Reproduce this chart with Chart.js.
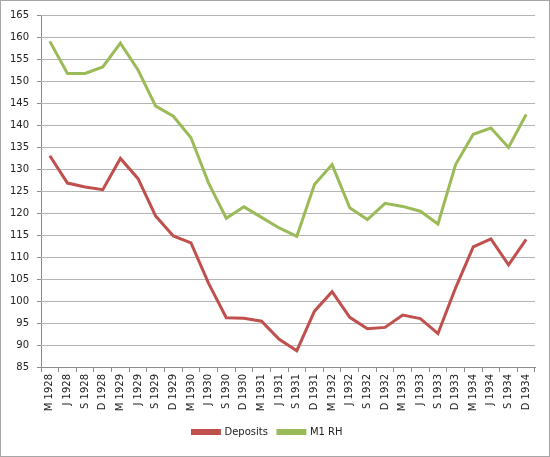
<!DOCTYPE html>
<html>
<head>
<meta charset="utf-8">
<script src="https://cdn.jsdelivr.net/npm/chart.js@4"></script>
<style>
  body { margin: 0; background: #fff; }
  #box { width: 550px; height: 457px; }
</style>
</head>
<body>
<div id="box"><canvas id="myChart" width="550" height="457"></canvas></div>
<script>
// quarter labels
const quarters = [
  "M 1928", "J 1928", "S 1928", "D 1928",
  "M 1929", "J 1929", "S 1929", "D 1929",
  "M 1930", "J 1930", "S 1930", "D 1930",
  "M 1931", "J 1931", "S 1931", "D 1931",
  "M 1932", "J 1932", "S 1932", "D 1932",
  "M 1933", "J 1933", "S 1933", "D 1933",
  "M 1934", "J 1934", "S 1934", "D 1934",
];

const deposits = [
  133, 126.8, 125.9, 125.3, 132.4, 127.8, 119.3, 114.8,
  113.2, 104, 96.2, 96.1, 95.4, 91.3, 88.7, 97.7,
  102.1, 96.3, 93.7, 94, 96.8, 96, 92.6, 103,
  112.3, 114.1, 108.2, 114,
];

const m1rh = [
  159, 151.7, 151.7, 153.2, 158.6, 152.5, 144.3, 142,
  137.1, 126.8, 118.8, 121.4, 119, 116.6, 114.7, 126.5,
  131, 121.2, 118.5, 122.2, 121.5, 120.4, 117.5, 131,
  137.9, 139.3, 134.9, 142.4,
];

const yMin = 85;
const yMax = 165;
const yStep = 5;

Chart.defaults.font.family = "'DejaVu Sans', Verdana, sans-serif";
Chart.defaults.font.size = 10;
Chart.defaults.color = "#333";

// white background + thin frame like the excel export
const frame = {
  id: "frame",
  beforeDraw(chart) {
    const c = chart.ctx;
    c.save();
    c.fillStyle = "#fff";
    c.fillRect(0, 0, chart.width, chart.height);
    c.strokeStyle = "#a6a6a6";
    c.lineWidth = 1;
    c.strokeRect(0.5, 0.5, chart.width - 1, chart.height - 1);
    c.restore();
  },
  // horizontal gridlines, kept inside the plot area
  beforeDatasetsDraw(chart) {
    const a = chart.chartArea;
    const y = chart.scales.y;
    const c = chart.ctx;
    c.save();
    c.strokeStyle = "#b4b4b4";
    c.lineWidth = 1;
    y.ticks.forEach((t) => {
      if (t.value <= yMin) return;
      const py = Math.round(y.getPixelForValue(t.value)) + 0.5;
      c.beginPath();
      c.moveTo(a.left, py);
      c.lineTo(a.right, py);
      c.stroke();
    });
    c.restore();
  },
};

const ctx = document.getElementById("myChart");

const chart = new Chart(ctx, {
  type: "line",
  data: {
    labels: quarters,
    datasets: [
      {
        label: "Deposits",
        data: deposits,
        borderColor: "#c0504d",
        backgroundColor: "#c0504d",
        borderWidth: 3,
        pointRadius: 0,
        tension: 0,
      },
      {
        label: "M1 RH",
        data: m1rh,
        borderColor: "#9bbb59",
        backgroundColor: "#9bbb59",
        borderWidth: 3,
        pointRadius: 0,
        tension: 0,
      },
    ],
  },
  options: {
    responsive: false,
    animation: false,
    layout: { padding: { top: 15, right: 15, bottom: 10, left: 0 } },
    plugins: {
      legend: {
        position: "bottom",
        labels: { boxWidth: 27, boxHeight: 3, padding: 10, color: "#222" },
      },
      tooltip: { enabled: false },
    },
    scales: {
      x: {
        offset: true,
        grid: {
          offset: true,
          drawOnChartArea: false,
          drawTicks: true,
          tickLength: 5,
          color: "#8c8c8c",
        },
        border: { color: "#8c8c8c" },
        ticks: { autoSkip: false, minRotation: 90, maxRotation: 90, padding: 2, color: "#222" },
        afterFit(scale) {
          scale.height = 50;
        },
      },
      y: {
        min: yMin,
        max: yMax,
        ticks: { stepSize: yStep, padding: 8, color: "#222" },
        grid: { drawOnChartArea: false, tickLength: 4, color: "#8c8c8c" },
        border: { color: "#8c8c8c" },
        afterFit(scale) {
          scale.width = 41;
        },
      },
    },
  },
  plugins: [frame],
});
</script>
</body>
</html>
